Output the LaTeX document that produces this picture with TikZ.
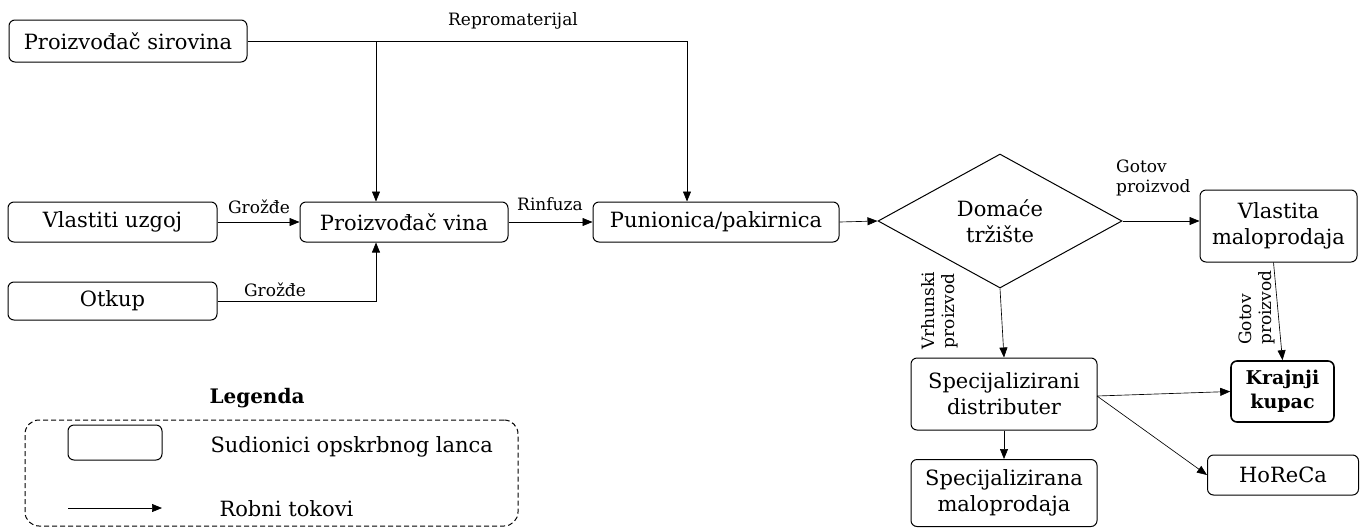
\documentclass[tikz,border=0pt]{standalone}
\usepackage{fontspec}
\setmainfont{DejaVu Serif}
\newfontfamily\bkm{DejaVu Serif}
\usetikzlibrary{shapes.geometric,arrows.meta}
\begin{document}
\begin{tikzpicture}[x=1pt,y=-1pt,
  box/.style={draw, rounded corners=6pt, line width=1pt, inner sep=0pt, align=center},
  lbox/.style={box, font=\bkm\fontsize{21}{23}\selectfont},
  rbox/.style={box, font=\bkm\fontsize{21}{26}\selectfont},
  flow/.style={-{Triangle[length=10pt,width=8pt]}, line width=0.65pt},
  line/.style={line width=0.65pt},
  lbl/.style={font=\bkm\fontsize{17}{18}\selectfont, inner sep=1pt},
  rlbl/.style={font=\bkm\fontsize{17}{20}\selectfont, inner sep=1pt, align=left}]
\useasboundingbox (0,0) rectangle (1362,528);
% nodes
\node[lbox, minimum width=238pt, minimum height=42pt] (ps) at (128,41) {Proizvođač sirovina};
\node[lbox, minimum width=209pt, minimum height=40pt] (vu) at (112.5,222) {Vlastiti uzgoj};
\node[lbox, minimum width=209pt, minimum height=38pt] (ot) at (112.5,301) {Otkup};
\node[lbox, minimum width=208pt, minimum height=40pt] (pv) at (404,222) {Proizvođač vina};
\node[lbox, minimum width=246pt, minimum height=40pt] (pp) at (716,222) {Punionica/pakirnica};
\node[draw, diamond, line width=1pt, inner sep=0pt, minimum width=244pt, minimum height=134pt, align=center, font=\bkm\fontsize{21}{26}\selectfont] (dt) at (1000,221) {Domaće\\tržište};
\node[rbox, minimum width=157pt, minimum height=72pt] (vm) at (1278.5,226) {Vlastita\\maloprodaja};
\node[rbox, minimum width=186pt, minimum height=72pt] (sd) at (1004,394) {Specijalizirani\\distributer};
\node[rbox, minimum width=103pt, minimum height=61pt, line width=1.6pt, font=\bkm\bfseries\fontsize{19}{24}\selectfont] (kk) at (1282.5,391.5) {Krajnji\\kupac};
\node[rbox, minimum width=151pt, minimum height=40pt] (ho) at (1283,475) {HoReCa};
\node[rbox, minimum width=186pt, minimum height=67pt] (sm) at (1004,493) {Specijalizirana\\maloprodaja};
% repromaterijal
\coordinate (j1) at (376,41);
\coordinate (j2) at (687,41);
\draw[line] (ps.east) -- (j2);
\node[lbl] (rep) at (513,21) {Repromaterijal};
\draw[flow] (j1) -- (j1 |- pv.north);
\draw[flow] (j2) -- (j2 |- pp.north);
% grozde
\draw[flow] (vu.east) -- (pv.west);
\node[lbl] (g1) at (259,207) {Grožđe};
\draw[flow] (ot.east) -| (j1 |- pv.south);
\node[lbl] (g2) at (275,290) {Grožđe};
\draw[flow] (pv.east) -- (pp.west);
\node[lbl] (rin) at (550,204) {Rinfuza};
\draw[flow] (pp.east) -- (dt.west);
% right
\draw[flow] (dt.east) -- (dt.east -| vm.west);
\node[rlbl, anchor=west] (gp1) at (1115,178) {Gotov\\proizvod};
\draw[flow] (dt.south) -- (sd.north);
\node[rlbl, rotate=90, align=center, anchor=center] (vp) at (940,311) {Vrhunski\\proizvod};
\draw[flow] ([xshift=-5pt]vm.south) -- (kk.north);
\node[rlbl, rotate=90, anchor=west] (gp2) at (1257,346) {Gotov\\proizvod};
\coordinate (sde) at (1097,396);
\draw[flow] (sde) -- (kk.west);
\draw[flow] (sde) -- (ho.west);
\draw[flow] (sd.south) -- (sm.north);
% legend
\node[font=\bkm\bfseries\fontsize{20}{22}\selectfont] (leg) at (257,398) {Legenda};
\node[draw, dashed, dash pattern=on 5pt off 3pt, rounded corners=14pt, line width=1pt, minimum width=493pt, minimum height=106pt, inner sep=0pt] (lb) at (271.5,473) {};
\node[box, minimum width=94pt, minimum height=35pt] (lbx) at (115,442.5) {};
\node[font=\bkm\fontsize{21}{23}\selectfont, anchor=west] (lt1) at (207,447) {Sudionici opskrbnog lanca};
\coordinate (la1) at (68,508);
\coordinate (la2) at (162,508);
\draw[flow] (la1) -- (la2);
\node[font=\bkm\fontsize{21}{23}\selectfont, anchor=west] (lt2) at (216,509) {Robni tokovi};
\end{tikzpicture}
\end{document}
